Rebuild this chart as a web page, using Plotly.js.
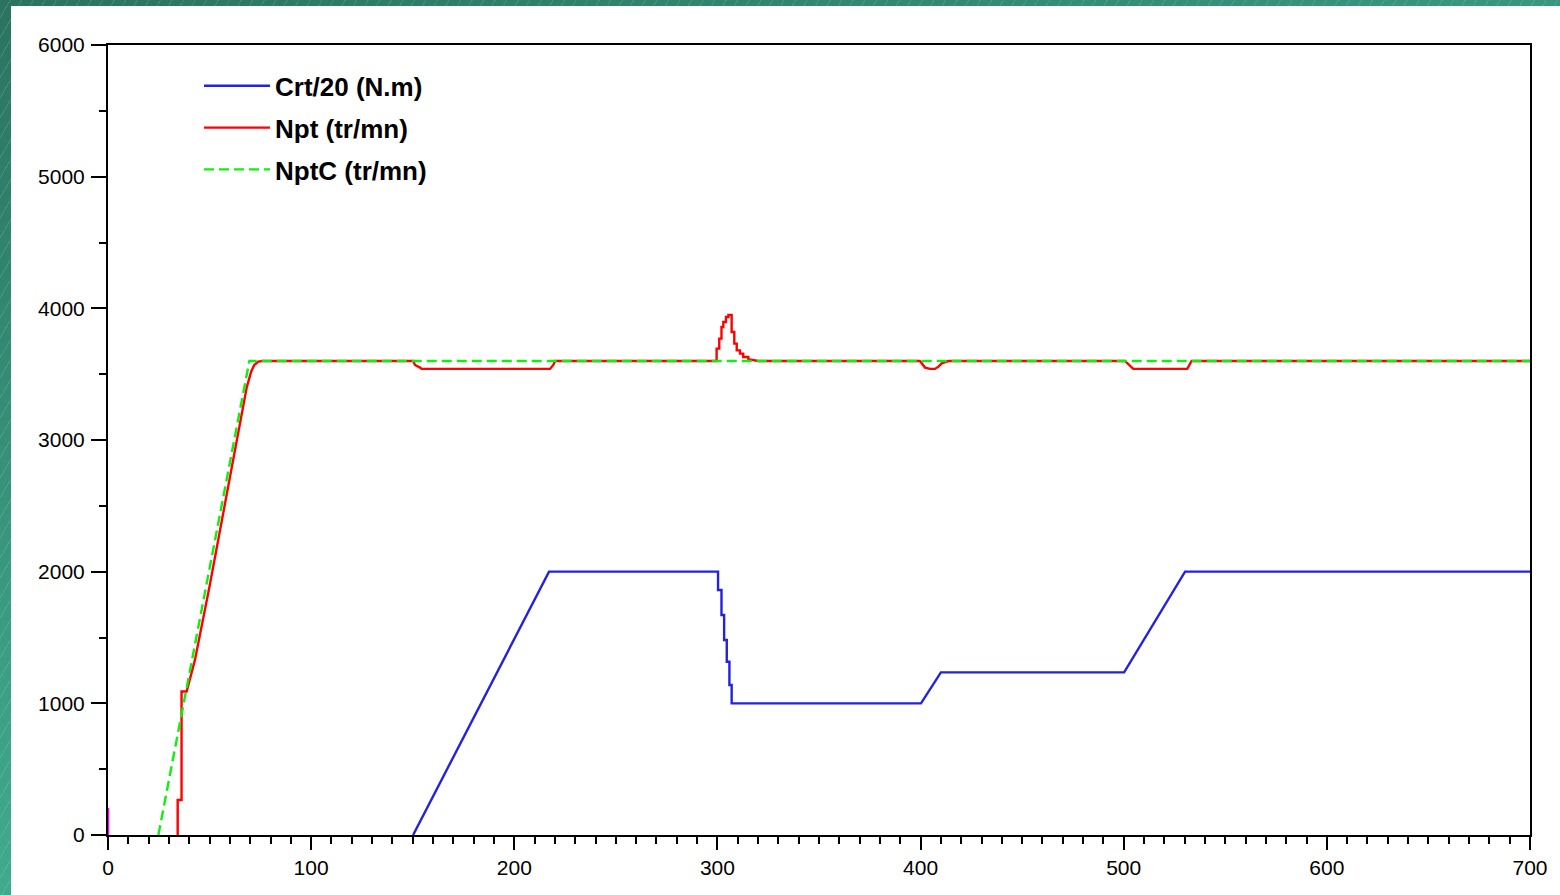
<!DOCTYPE html>
<html>
<head>
<meta charset="utf-8">
<script src="https://cdn.plot.ly/plotly-3.0.1.min.js"></script>
<style>
  html, body { margin:0; padding:0; width:1560px; height:895px; overflow:hidden; }
  body {
    background:
      repeating-linear-gradient(-60deg, rgba(255,255,255,0) 0px, rgba(255,255,255,0) 9px, rgba(255,255,255,0.12) 9px, rgba(255,255,255,0.12) 10px),
      linear-gradient(160deg, #2a7360 0%, #3a9e84 45%, #4cc6a6 100%);
  }
  #panel { position:absolute; left:11px; top:6px; width:1549px; height:889px; background:#ffffff; }
  #chart { position:absolute; left:0; top:0; width:1560px; height:895px; }
</style>
</head>
<body>
<div id="panel"></div>
<div id="chart"></div>
<script>
// Crt/20 (N.m)  (zero before t = 150 lies on the x axis line)
const crt_t = [150.2, 217.1, 300.3, 300.3, 302, 302, 303.3, 303.3, 304.6, 304.6, 305.9, 305.9, 307, 307, 400.2, 410, 500.2, 530.2, 700];
const crt_v = [0, 2000, 2000, 1861, 1861, 1671, 1671, 1481, 1481, 1316, 1316, 1139, 1139, 1000, 1000, 1235, 1235, 2000, 2000];

// Npt (tr/mn)
const npt_t = [34.3, 34.3, 36.2, 36.2, 38.7, 42.8, 50, 60.9, 68.3,
  70.5, 72, 74, 76, 150.3, 151.1, 153.6, 154.4, 217.6, 219.2,
  220.1, 299.6, 299.6, 300.9, 300.9, 302, 302, 302.9, 302.9, 304.2,
  304.2, 305.4, 305.4, 307, 307, 308.3, 308.3, 309.5, 309.5, 311.1,
  311.1, 312.7, 312.7, 315.2, 315.2, 320.1, 399.7, 401.3, 402.2, 404.7,
  407.1, 408.8, 410.4, 413.7, 500.6, 504.7, 531.3, 533.4, 700];
const npt_v = [0, 266, 266, 1090, 1090, 1330, 1890, 2772, 3400,
  3520, 3570, 3595, 3600, 3600, 3570, 3550, 3540, 3540, 3570,
  3600, 3600, 3694, 3694, 3770, 3770, 3858, 3858, 3896, 3896,
  3934, 3934, 3950, 3950, 3820, 3820, 3732, 3732, 3681, 3681,
  3656, 3656, 3630, 3630, 3613, 3600, 3600, 3570, 3550, 3540,
  3540, 3557, 3582, 3600, 3600, 3540, 3540, 3600, 3600];

// NptC (tr/mn)
const nptc_t = [24.8, 69.6, 700];
const nptc_v = [0, 3600, 3600];

// unnamed magenta marker at t = 0
const mag_t = [0, 0];
const mag_v = [0, 205];

const traces = [
  {x: crt_t, y: crt_v, type: 'scatter', mode: 'lines', name: 'Crt/20 (N.m)', legendgroup: 'a',
   line: {color: '#2222e0', width: 2.4}},
  {x: npt_t, y: npt_v, type: 'scatter', mode: 'lines', name: 'Npt (tr/mn)', legendgroup: 'b',
   line: {color: '#ff0000', width: 2.4}},
  {x: nptc_t, y: nptc_v, type: 'scatter', mode: 'lines', name: 'NptC (tr/mn)', legendgroup: 'c',
   line: {color: '#11ee11', width: 2.4, dash: '10px,5px'}},
  {x: mag_t, y: mag_v, type: 'scatter', mode: 'lines', showlegend: false,
   line: {color: '#ff00ff', width: 2.5}}
];

const axisFont = {family: '"Liberation Sans", Arial, sans-serif', size: 21, color: '#000'};

const layout = {
  width: 1560, height: 895,
  paper_bgcolor: 'rgba(0,0,0,0)',
  plot_bgcolor: '#ffffff',
  margin: {l: 108, r: 30, t: 45, b: 60, pad: 0},
  showlegend: true,
  legend: {
    x: 0.064, y: 0.978, xanchor: 'left', yanchor: 'top',
    bgcolor: 'rgba(0,0,0,0)',
    font: {family: '"Liberation Sans", Arial, sans-serif', size: 26, color: '#000', weight: 'bold'},
    itemwidth: 66, tracegroupgap: 5
  },
  xaxis: {
    range: [0, 700], dtick: 100, tick0: 0,
    showgrid: false, zeroline: false,
    showline: true, linecolor: '#000', linewidth: 2, mirror: true,
    ticks: 'outside', ticklen: 13, tickwidth: 2, tickcolor: '#000',
    minor: {dtick: 10, ticks: 'outside', ticklen: 7, tickwidth: 2, tickcolor: '#000', showgrid: false},
    tickfont: axisFont, fixedrange: true
  },
  yaxis: {
    range: [0, 6000], dtick: 1000, tick0: 0,
    showgrid: false, zeroline: false,
    showline: true, linecolor: '#000', linewidth: 2, mirror: true,
    ticks: 'outside', ticklen: 15, tickwidth: 2, tickcolor: '#000',
    ticklabelstandoff: 2,
    minor: {dtick: 500, ticks: 'outside', ticklen: 7, tickwidth: 2, tickcolor: '#000', showgrid: false},
    tickfont: axisFont, fixedrange: true
  }
};

Plotly.newPlot('chart', traces, layout, {displayModeBar: false, staticPlot: true});
</script>
</body>
</html>
